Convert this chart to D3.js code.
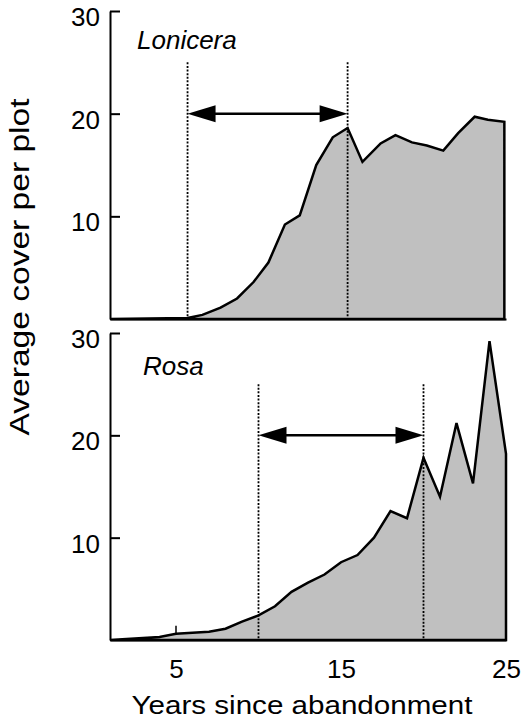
<!DOCTYPE html>
<html lang="en">
<head>
    <meta charset="utf-8">
    <title>Cover since abandonment</title>
    <style>
        body { margin: 0; background: #fff; }
        svg { display: block; font-family: "Liberation Sans", Arial, sans-serif; }
        .cover { fill: #c0c0c0; stroke: #000; stroke-width: 2.5px; stroke-linejoin: miter; }
        .guide { stroke: #000; stroke-width: 1.8px; stroke-dasharray: 2,1.6; }
        .axis path, .axis line { stroke: #000; stroke-width: 2px; }
        .axis text { font-size: 26px; fill: #000; font-family: "Liberation Sans", Arial, sans-serif; }
    </style>
</head>
<body>
<script src="https://cdn.jsdelivr.net/npm/d3@7/dist/d3.min.js"></script>
<script>
    // values
    const panelNames = ["Lonicera", "Rosa"];

    const loniceraYears = [1, 5.7, 6.6, 7.7, 8.7, 9.7, 10.6, 11.6, 12.5, 13.5, 14.5, 15.4, 16.3, 17.4, 18.3, 19.3, 20.2, 21.2, 22.1, 23.1, 23.9, 24.9];
    const loniceraCover = [0, 0.1, 0.4, 1.1, 2.0, 3.6, 5.5, 9.2, 10.1, 15.0, 17.7, 18.6, 15.3, 17.1, 17.9, 17.2, 16.9, 16.4, 18.1, 19.7, 19.4, 19.2];

    const rosaYears = [1, 2, 3, 4, 5, 6, 7, 8, 9, 10, 11, 12, 13, 14, 15, 16, 17, 18, 19, 20, 21, 22, 23, 24, 25];
    const rosaCover = [0, 0.1, 0.2, 0.3, 0.6, 0.7, 0.8, 1.1, 1.8, 2.4, 3.3, 4.7, 5.6, 6.4, 7.6, 8.3, 10.0, 12.6, 11.9, 17.8, 14.0, 21.2, 15.3, 29.2, 18.2];

    // start / end of the marked period, and where the arrow and guides sit
    const loniceraSpan = [5.7, 15.4];
    const rosaSpan = [10, 20];
    const arrowLevel = 20;
    const guideTop = 25;

    const yTicks = [10, 20, 30];
    const xTicks = [5, 15, 25];

    const width = 521, height = 721;

    const svg = d3.select("body").append("svg")
        .attr("width", width)
        .attr("height", height);

    const x = d3.scaleLinear().domain([1, 25]).range([110, 506]);

    const panels = [
        {name: panelNames[0], years: loniceraYears, cover: loniceraCover, span: loniceraSpan,
            y: d3.scaleLinear().domain([0, 30]).range([319, 11]), label: [137, 49]},
        {name: panelNames[1], years: rosaYears, cover: rosaCover, span: rosaSpan,
            y: d3.scaleLinear().domain([0, 30]).range([640, 333]), label: [143, 375]}
    ];

    panels.forEach((p, i) => {
        const pts = p.years.map((yr, j) => [yr, p.cover[j]]);
        const g = svg.append("g");

        const area = d3.area()
            .x(d => x(d[0]))
            .y0(p.y(0))
            .y1(d => p.y(d[1]));

        g.append("path")
            .attr("class", "cover")
            .attr("d", area(pts));

        // dotted guides at the start and end of the period
        g.selectAll("line.guide")
            .data(p.span)
            .join("line")
            .attr("class", "guide")
            .attr("x1", d => x(d)).attr("x2", d => x(d))
            .attr("y1", p.y(guideTop)).attr("y2", p.y(0));

        // double headed arrow
        const ay = p.y(arrowLevel);
        const x0 = x(p.span[0]), x1 = x(p.span[1]);
        const headL = 28, headH = 8.5;
        g.append("line")
            .attr("x1", x0 + headL - 2).attr("x2", x1 - headL + 2)
            .attr("y1", ay).attr("y2", ay)
            .attr("stroke", "#000").attr("stroke-width", 2.5);
        g.append("path")
            .attr("d", `M${x0},${ay}L${x0 + headL},${ay - headH}L${x0 + headL},${ay + headH}Z`)
            .attr("fill", "#000");
        g.append("path")
            .attr("d", `M${x1},${ay}L${x1 - headL},${ay - headH}L${x1 - headL},${ay + headH}Z`)
            .attr("fill", "#000");

        // y axis, ticks pointing into the plot
        const yAxis = svg.append("g")
            .attr("class", "axis")
            .attr("transform", `translate(${x(1)},0)`)
            .call(d3.axisLeft(p.y).tickValues(yTicks).tickSize(-10).tickSizeOuter(0).tickPadding(10));
        yAxis.selectAll("text").attr("dy", "0.56em");

        // baseline
        const xAxis = svg.append("g")
            .attr("class", "axis")
            .attr("transform", `translate(0,${p.y(0)})`)
            .call(d3.axisBottom(x).tickValues(i === 1 ? xTicks : []).tickSize(0).tickSizeOuter(0).tickPadding(19.5));
        xAxis.selectAll("text").attr("dy", "0.71em");

        svg.append("text")
            .attr("x", p.label[0])
            .attr("y", p.label[1])
            .attr("font-size", 26)
            .attr("font-style", "italic")
            .text(p.name);
    });

    // small mark on the Rosa curve at year 5
    const rosaY = panels[1].y;
    svg.append("line")
        .attr("x1", x(5)).attr("x2", x(5))
        .attr("y1", rosaY(rosaCover[4])).attr("y2", rosaY(rosaCover[4]) - 8)
        .attr("stroke", "#000").attr("stroke-width", 1.5);

    svg.append("text")
        .attr("transform", "translate(29,267) rotate(-90)")
        .attr("text-anchor", "middle")
        .attr("font-size", 27)
        .attr("textLength", 337)
        .attr("lengthAdjust", "spacingAndGlyphs")
        .text("Average cover per plot");

    svg.append("text")
        .attr("x", 302)
        .attr("y", 714)
        .attr("text-anchor", "middle")
        .attr("font-size", 26)
        .attr("textLength", 341)
        .attr("lengthAdjust", "spacingAndGlyphs")
        .text("Years since abandonment");
</script>
</body>
</html>
